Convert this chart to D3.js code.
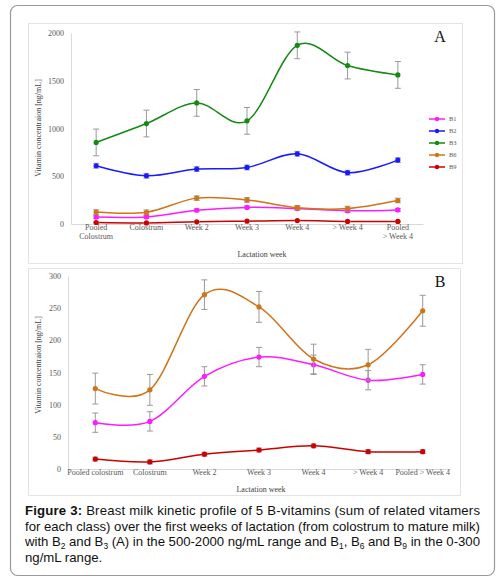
<!DOCTYPE html>
<html><head><meta charset="utf-8">
<script src="https://cdn.jsdelivr.net/npm/d3@7"></script>
<style>body{margin:0;background:#fff}</style>
</head><body>
<svg id="chart" width="500" height="584"></svg>
<script>
const categoriesA = ["Pooled|Colostrum","Colostrum","Week 2","Week 3","Week 4","> Week 4","Pooled|> Week 4"];
const categoriesB = ["Pooled colostrum","Colostrum","Week 2","Week 3","Week 4","> Week 4","Pooled > Week 4"];
const seriesNames = ["B1","B2","B3","B6","B9"];
const seriesColors = ["#ff1aff","#1a1aff","#138a13","#d07417","#cc0000"];
const b1 = [72,74,144,174,162,138,147];
const b1Err = [15,15,15,15,15,15,15];
const b2 = [610,505,575,592,735,537,669];
const b2Err = [25,25,25,25,25,25,25];
const b3 = [854,1052,1268,1080,1871,1659,1561];
const b3Err = [140,140,140,140,140,140,140];
const b6 = [125,123,271,252,171,162,246];
const b6Err = [24,24,23,24,23,24,24];
const b9 = [15.5,11,23,29.5,36,27,27];
const b9Err = [3,3,3,3,3,3,3];
const ticksA = [0,500,1000,1500,2000];
const ticksB = [0,50,100,150,200,250,300];

const svg = d3.select("#chart");
const serif = "Liberation Serif, DejaVu Serif, serif";

// outer frame
svg.append("rect").attr("x",10.5).attr("y",5.5).attr("width",484).attr("height",570)
  .attr("rx",7).attr("fill","#fff").attr("stroke","#9a9a9a").attr("stroke-width",1.2);

function panel(opts){
  const g = svg.append("g");
  g.append("rect").attr("x",opts.box[0]).attr("y",opts.box[1]).attr("width",opts.box[2]).attr("height",opts.box[3])
    .attr("fill","#fff").attr("stroke","#e4e4e4").attr("stroke-width",1);
  const x = d3.scaleBand().domain(opts.cats).range([opts.x0,opts.x1]);
  const y = d3.scaleLinear().domain(opts.domain).range([opts.y0,opts.y1]);
  const cx = c => x(c) + x.bandwidth()/2;
  // axes
  const ya = g.append("g").attr("transform",`translate(${opts.x0},0)`)
    .call(d3.axisLeft(y).tickValues(opts.ticks).tickFormat(d3.format("d")).tickSize(0).tickPadding(7));
  ya.select(".domain").attr("stroke","#d9d9d9");
  ya.selectAll("text").attr("font-family",serif).attr("font-size",opts.tickFs).attr("fill","#595959");
  const xa = g.append("g").attr("transform",`translate(0,${opts.y0})`).call(d3.axisBottom(x).tickSize(0).tickPadding(7).tickFormat(""));
  xa.select(".domain").attr("stroke","#d9d9d9");
  xa.selectAll(".tick").each(function(d){
    const parts = d.split("|");
    const t = d3.select(this).append("text").attr("y",opts.catDy).attr("text-anchor","middle")
      .attr("font-family",serif).attr("font-size",opts.tickFs).attr("fill","#595959");
    parts.forEach((p,i)=>t.append("tspan").attr("x",0).attr("dy",i?"1.1em":0).text(p));
  });
  g.append("text").attr("x",opts.xTitle[0]).attr("y",opts.xTitle[1]).attr("text-anchor","middle")
    .attr("font-family",serif).attr("font-size",opts.titleFs).attr("fill","#404040").text("Lactation week");
  g.append("text").attr("transform",`translate(${opts.yTitle[0]},${opts.yTitle[1]}) rotate(-90)`).attr("text-anchor","middle")
    .attr("font-family",serif).attr("font-size",opts.titleFs).attr("fill","#404040").text("Vitamin concentraion [ng/mL]");
  g.append("text").attr("x",opts.letter[0]).attr("y",opts.letter[1]).attr("text-anchor","middle")
    .attr("font-family",serif).attr("font-size",16).attr("fill","#111").text(opts.letterText);
  const line = d3.line().x((d,i)=>cx(opts.cats[i])).y(d=>y(d)).curve(d3.curveCatmullRom.alpha(0));
  opts.series.forEach(s=>{
    const sg = g.append("g");
    sg.append("path").datum(s.values).attr("d",line).attr("fill","none").attr("stroke",s.color).attr("stroke-width",1.5);
    s.values.forEach((v,i)=>{
      const xx = cx(opts.cats[i]);
      const e = s.err[i];
      sg.append("path").attr("d",`M${xx},${y(v+e)}V${y(v-e)}M${xx-3},${y(v+e)}H${xx+3}M${xx-3},${y(v-e)}H${xx+3}`)
        .attr("stroke","#999").attr("stroke-width",1).attr("fill","none");
    });
    sg.selectAll("circle").data(s.values).join("circle")
      .attr("cx",(d,i)=>cx(opts.cats[i])).attr("cy",d=>y(d)).attr("r",opts.r).attr("fill",s.color);
  });
  return {x,y};
}

const allSeries = [
  {name:"B1",values:b1,err:b1Err,color:seriesColors[0]},
  {name:"B2",values:b2,err:b2Err,color:seriesColors[1]},
  {name:"B3",values:b3,err:b3Err,color:seriesColors[2]},
  {name:"B6",values:b6,err:b6Err,color:seriesColors[3]},
  {name:"B9",values:b9,err:b9Err,color:seriesColors[4]}
];

panel({box:[28.5,23.5,434,240],cats:categoriesA,x0:71,x1:423,y0:224,y1:33,domain:[0,2000],ticks:ticksA,
  tickFs:8,catDy:"0.75em",titleFs:8,xTitle:[262,257],yTitle:[41,128],letter:[440,42],letterText:"A",r:2.6,
  series:[allSeries[0],allSeries[3],allSeries[1],allSeries[2],allSeries[4]]});

panel({box:[28.5,268.5,432,227],cats:categoriesB,x0:68,x1:450,y0:469,y1:276,domain:[0,300],ticks:ticksB,
  tickFs:8,catDy:"0.75em",titleFs:8,xTitle:[261,492],yTitle:[41,365],letter:[440,287],letterText:"B",r:2.6,
  series:[allSeries[4],allSeries[0],allSeries[3]]});

// legend
const leg = svg.append("g");
seriesNames.forEach((n,i)=>{
  const yy = 119 + i*12;
  leg.append("line").attr("x1",429).attr("x2",445).attr("y1",yy).attr("y2",yy).attr("stroke",seriesColors[i]).attr("stroke-width",1.5);
  leg.append("circle").attr("cx",437).attr("cy",yy).attr("r",2.2).attr("fill",seriesColors[i]);
  leg.append("text").attr("x",449).attr("y",yy).attr("dy","0.35em").attr("font-family",serif).attr("font-size",6.5).attr("fill","#595959").text(n);
});

// caption
const cap = svg.append("g").attr("font-family","Liberation Sans, Arial, sans-serif").attr("font-size",13.2).attr("fill","#111");
const l1 = cap.append("text").attr("x",25).attr("y",515).attr("textLength",455).attr("lengthAdjust","spacing");
l1.append("tspan").attr("font-weight","bold").text("Figure 3:");
l1.append("tspan").text(" Breast milk kinetic profile of 5 B-vitamins (sum of related vitamers");
cap.append("text").attr("x",25).attr("y",530.5).attr("textLength",455).attr("lengthAdjust","spacing")
  .text("for each class) over the first weeks of lactation (from colostrum to mature milk)");
const l3 = cap.append("text").attr("x",25).attr("y",546).attr("textLength",455).attr("lengthAdjust","spacing");
l3.append("tspan").text("with B");
l3.append("tspan").attr("font-size",8.5).attr("dy",3).text("2");
l3.append("tspan").attr("dy",-3).text(" and B");
l3.append("tspan").attr("font-size",8.5).attr("dy",3).text("3");
l3.append("tspan").attr("dy",-3).text(" (A) in the 500-2000 ng/mL range and B");
l3.append("tspan").attr("font-size",8.5).attr("dy",3).text("1");
l3.append("tspan").attr("dy",-3).text(", B");
l3.append("tspan").attr("font-size",8.5).attr("dy",3).text("6");
l3.append("tspan").attr("dy",-3).text(" and B");
l3.append("tspan").attr("font-size",8.5).attr("dy",3).text("9");
l3.append("tspan").attr("dy",-3).text(" in the 0-300");
cap.append("text").attr("x",25).attr("y",561.5).text("ng/mL range.");
</script>
</body></html>
